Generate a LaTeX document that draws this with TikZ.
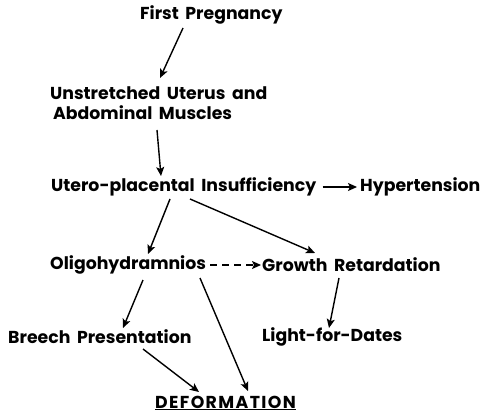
\documentclass[tikz,border=0pt]{standalone}
\usepackage{fontspec}
\setmainfont{Poppins}[WordSpace=1.8]
\usetikzlibrary{arrows.meta}
\begin{document}
\begin{tikzpicture}[x=1pt,y=-1pt,
  lbl/.style={inner sep=0pt,anchor=west,font=\fontsize{17.3}{20}\selectfont\bfseries},
  arr/.style={line width=1.4pt,-{Stealth[length=9pt,width=8pt,inset=2pt]}},
  darr/.style={arr,dash pattern=on 7pt off 5pt}]
\useasboundingbox (0,0) rectangle (487,414);
\node[lbl] (fp) at (140,15) {First Pregnancy};
\node[lbl,align=left] (us) at (50,103) {Unstretched Uterus and\\\hspace{3pt}Abdominal Muscles};
\node[lbl] (upi) at (51,187) {Utero-placental Insufficiency};
\node[lbl] (hyp) at (360,187) {Hypertension};
\node[lbl] (oli) at (50,265) {Oligohydramnios};
\node[lbl] (gr) at (262,265) {Growth Retardation};
\node[lbl] (br) at (8,337) {Breech Presentation};
\node[lbl] (lfd) at (262,337) {Light-for-Dates};
\node[lbl] (def) at (155,403) {\addfontfeatures{LetterSpace=8}\underline{DEFORMATION}};
\draw[arr] ([shift={(43,13)}]fp.west) -- ([shift={(110,-25)}]us.west);
\draw[arr] ([shift={(107,27)}]us.west) -- ([shift={(110,-11)}]upi.west);
\draw[arr,shorten <=6pt,shorten >=3pt] (upi.east) -- (hyp.west);
\draw[arr] ([shift={(119,12)}]upi.west) -- ([shift={(98,-11)}]oli.west);
\draw[arr] ([shift={(139,12)}]upi.west) -- ([shift={(53,-12)}]gr.west);
\draw[darr,shorten <=4pt,shorten >=1pt] (oli.east) -- (gr.west);
\draw[arr] ([shift={(93,15)}]oli.west) -- ([shift={(115,-9)}]br.west);
\draw[arr] ([shift={(150,13)}]oli.west) -- ([shift={(93,-12)}]def.west);
\draw[arr] ([shift={(77,13)}]gr.west) -- ([shift={(67,-9)}]lfd.west);
\draw[arr] ([shift={(135,12)}]br.west) -- ([shift={(44,-11)}]def.west);
\end{tikzpicture}
\end{document}
